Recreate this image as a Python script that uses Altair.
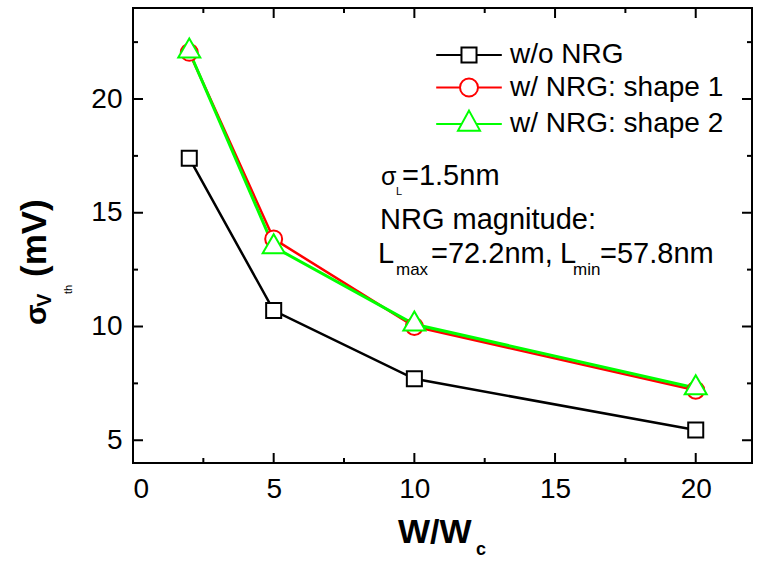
import altair as alt
import pandas as pd

# ---- data ----
x_vals = [2, 5, 10, 20]
series_names = ["w/o NRG", "w/ NRG: shape 1", "w/ NRG: shape 2"]
y_wo = [17.4, 10.7, 7.7, 5.45]
y_s1 = [22.05, 13.85, 10.0, 7.2]
y_s2 = [22.1, 13.5, 10.1, 7.3]
colors = ["#000000", "#ff0000", "#00ff00"]
line_widths = [2.5, 2.5, 3]

x_major = [0, 5, 10, 15, 20]
x_minor = [2.5, 7.5, 12.5, 17.5]
y_major = [5, 10, 15, 20]
y_minor = [7.5, 12.5, 17.5, 22.5]

W, H = 619, 455
FONT = "Liberation Sans"

rows = []
for name, ys in zip(series_names, [y_wo, y_s1, y_s2]):
    for i, (xv, yv) in enumerate(zip(x_vals, ys)):
        rows.append({"series": name, "x": xv, "y": yv, "i": i})
df = pd.DataFrame(rows)

xscale = alt.Scale(domain=[0, 22], nice=False, zero=False)
yscale = alt.Scale(domain=[4, 24], nice=False, zero=False)
xaxis = alt.Axis(values=x_major, title=None, labelPadding=12, labelFontSize=28,
                 tickSize=0, domain=False, grid=False, labelFont=FONT, labelColor="black")
yaxis = alt.Axis(values=y_major, title=None, labelPadding=11, labelFontSize=28,
                 tickSize=0, domain=False, grid=False, labelFont=FONT, labelColor="black")

def X(field):
    return alt.X(field, scale=xscale, axis=xaxis)

def Y(field):
    return alt.Y(field, scale=yscale, axis=yaxis)

# marker paths (unit = sqrt(size)/2 px)
plot_shapes = [
    "M-0.94,-0.94H0.94V0.94H-0.94Z",
    "M-1.06,0A1.06,1.06,0,1,1,1.06,0A1.06,1.06,0,1,1,-1.06,0Z",
    "M0,-1.58L1.375,0.79L-1.375,0.79Z",
]
legend_shapes = [
    "M-4.1,0H-0.94M0.94,0H4.1M-0.94,-0.94H0.94V0.94H-0.94Z",
    "M-4.1,0H-1.125M1.125,0H4.1M-1.125,0A1.125,1.125,0,1,0,1.125,0A1.125,1.125,0,1,0,-1.125,0Z",
    "M-4.1,0H-0.92M0.92,0H4.1M0,-1.67L1.375,0.83L-1.375,0.83Z",
]

base = alt.Chart(df)

# lines, one layer per series to control drawing order
line_layers = []
for name, c, w in zip(series_names, colors, line_widths):
    line_layers.append(
        base.transform_filter(alt.datum.series == name)
        .mark_line(color=c, strokeWidth=w)
        .encode(x=X("x:Q"), y=Y("y:Q"), order="i:Q")
    )

points = base.mark_point(fill="white", fillOpacity=1, strokeWidth=2, size=256, opacity=1).encode(
    x=X("x:Q"),
    y=Y("y:Q"),
    stroke=alt.Stroke("series:N", scale=alt.Scale(domain=series_names, range=colors), legend=None),
    shape=alt.Shape("series:N", scale=alt.Scale(domain=series_names, range=plot_shapes), legend=None),
)

leg = alt.Legend(
    orient="none", legendX=322, legendY=33, title=None, direction="vertical",
    symbolSize=256, symbolStrokeWidth=2, symbolOpacity=1, labelFont=FONT,
    labelFontSize=28, labelColor="black", labelOffset=27, rowPadding=4.5, padding=0,
    labelLimit=400,
)
legend_layer = base.mark_point(filled=False, size=256, opacity=0).encode(
    x=X("x:Q"),
    y=Y("y:Q"),
    color=alt.Color("series:N", scale=alt.Scale(domain=series_names, range=colors), legend=leg),
    shape=alt.Shape("series:N", scale=alt.Scale(domain=series_names, range=legend_shapes), legend=leg),
)

# inward ticks
def xticks(vals, ln):
    d = alt.Chart(pd.DataFrame({"v": vals}))
    bot = d.mark_rule(color="black", strokeWidth=2).encode(
        x=X("v:Q"), y=alt.value(H), y2=alt.value(H - ln))
    top = d.mark_rule(color="black", strokeWidth=2).encode(
        x=X("v:Q"), y=alt.value(0), y2=alt.value(ln))
    return [bot, top]

def yticks(vals, ln):
    d = alt.Chart(pd.DataFrame({"v": vals}))
    lft = d.mark_rule(color="black", strokeWidth=2).encode(
        y=Y("v:Q"), x=alt.value(0), x2=alt.value(ln))
    rgt = d.mark_rule(color="black", strokeWidth=2).encode(
        y=Y("v:Q"), x=alt.value(W), x2=alt.value(W - ln))
    return [lft, rgt]

tick_layers = xticks(x_major, 10) + xticks(x_minor, 5) + yticks(y_major, 10) + yticks(y_minor, 5)

# text pieces: (text, x, y, size, bold, angle)
texts = [
    ("σ", 248, 177, 25, False, 0),
    ("L", 263, 187, 11, False, 0),
    ("=1.5nm", 269, 177, 29, False, 0),
    ("NRG magnitude:", 247, 221, 29, False, 0),
    ("L", 245, 255, 29, False, 0),
    ("max", 263, 267, 17, False, 0),
    ("=72.2nm,", 298, 255, 29, False, 0),
    ("L", 427, 255, 29, False, 0),
    ("min", 440, 267, 17, False, 0),
    ("=57.8nm", 467, 255, 29, False, 0),
    ("W/W", 265, 535, 34, True, 0),
    ("c", 343, 547, 18, True, 0),
    ("σ", -87, 317, 30, True, 270),
    ("V", -82, 299, 20, True, 270),
    ("th", -61, 286, 11, False, 270),
    ("(mV)", -87, 269, 35, True, 270),
]
text_layers = []
for s, tx, ty, fs, bold, ang in texts:
    text_layers.append(
        alt.Chart(pd.DataFrame({"t": [s]})).mark_text(
            align="left", baseline="alphabetic", font=FONT, fontSize=fs,
            fontWeight="bold" if bold else "normal", angle=ang, color="black",
        ).encode(text="t:N", x=alt.value(tx), y=alt.value(ty))
    )

chart = alt.layer(
    *line_layers, points, legend_layer, *tick_layers, *text_layers
).resolve_scale(shape="independent", color="independent").properties(
    width=W, height=H,
    autosize=alt.AutoSizeParams(type="none"),
    padding={"left": 133, "top": 8, "right": 9, "bottom": 110},
    background="white",
).configure_view(stroke="black", strokeWidth=2).configure_axis(
    labelFont=FONT, labelColor="black", labelFontSize=28
)

chart.save("out.html", embed_options={"renderer": "svg", "actions": False})
